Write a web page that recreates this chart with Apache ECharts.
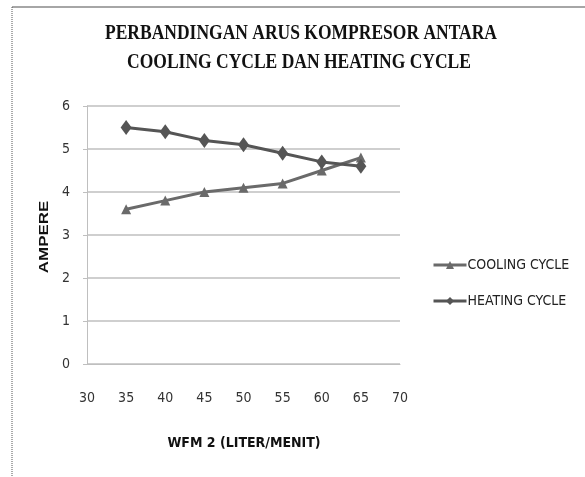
<!DOCTYPE html>
<html><head><meta charset="utf-8">
<script src="https://cdn.jsdelivr.net/npm/echarts@6/dist/echarts.min.js"></script>
<style>html,body{margin:0;padding:0;background:#fff}#c{width:585px;height:477px}</style>
</head><body><div id="c"></div>
<script>
const xValues = [35, 40, 45, 50, 55, 60, 65];
const coolingCycle = [3.6, 3.8, 4.0, 4.1, 4.2, 4.5, 4.8];
const heatingCycle = [5.5, 5.4, 5.2, 5.1, 4.9, 4.7, 4.6];
const titleLines = ['PERBANDINGAN ARUS KOMPRESOR ANTARA', 'COOLING CYCLE DAN HEATING CYCLE'];

const chart = echarts.init(document.getElementById('c'));
const narrow = '"DejaVu Sans Condensed", "Liberation Sans Narrow", "Open Sans", sans-serif';
const titleFont = 'bold 22px "Liberation Serif", serif';
const ctx = document.createElement('canvas').getContext('2d');
ctx.font = titleFont;
const titleScale = 392 / ctx.measureText(titleLines[0]).width;

chart.setOption({
  animation: false,
  legend: {
    orient: 'vertical', left: 427, top: 253, itemGap: 22, itemWidth: 33, itemHeight: 10,
    lineStyle: {width: 3},
    textStyle: {fontFamily: narrow, fontSize: 14, color: '#222', padding: [0,0,0,-4]},
    data: ['COOLING CYCLE', 'HEATING CYCLE']
  },
  grid: {left: 87, right: 185, top: 106, bottom: 113},
  xAxis: {
    type: 'value', min: 30, max: 70, interval: 5,
    axisLine: {show: true, lineStyle: {color: '#bfbfbf'}},
    axisTick: {show: false},
    splitLine: {show: false},
    axisLabel: {fontFamily: narrow, fontSize: 14, color: '#333', margin: 27}
  },
  yAxis: {
    type: 'value', min: 0, max: 6, interval: 1,
    axisLine: {show: true, lineStyle: {color: '#bfbfbf'}},
    axisTick: {show: true, inside: false, length: 4, lineStyle: {color: '#bfbfbf'}},
    splitLine: {lineStyle: {color: '#bfbfbf', width: 1.5}},
    axisLabel: {fontFamily: narrow, fontSize: 14, color: '#333', margin: 17}
  },
  graphic: [
    {type: 'text', x: 301, y: 33, scaleX: titleScale, style: {text: titleLines[0], textAlign: 'center', textVerticalAlign: 'middle', font: titleFont, fill: '#111'}},
    {type: 'text', x: 299, y: 62, scaleX: titleScale, style: {text: titleLines[1], textAlign: 'center', textVerticalAlign: 'middle', font: titleFont, fill: '#111'}},
    {type: 'text', x: 244, y: 443, style: {text: 'WFM 2 (LITER/MENIT)', textAlign: 'center', textVerticalAlign: 'middle', font: 'bold 14px ' + narrow, fill: '#111'}},
    {type: 'text', x: 44, y: 237, rotation: Math.PI/2, scaleX: 1.3, style: {text: 'AMPERE', textAlign: 'center', textVerticalAlign: 'middle', font: 'bold 13px "Liberation Sans", sans-serif', fill: '#111'}},
    {type: 'line', shape: {x1: 12, y1: 7, x2: 585, y2: 7}, style: {stroke: '#888', lineWidth: 1.5}},
    {type: 'line', shape: {x1: 12, y1: 7, x2: 12, y2: 477}, style: {stroke: '#555', lineWidth: 1, lineDash: [1, 1]}}
  ],
  series: [
    {name: 'COOLING CYCLE', type: 'line', data: xValues.map((x, i) => [x, coolingCycle[i]]),
     symbol: 'triangle', symbolSize: 10, lineStyle: {color: '#6a6a6a', width: 3},
     itemStyle: {color: '#6a6a6a'}},
    {name: 'HEATING CYCLE', type: 'line', data: xValues.map((x, i) => [x, heatingCycle[i]]),
     symbol: 'diamond', symbolSize: [11, 15], lineStyle: {color: '#555', width: 3},
     itemStyle: {color: '#555'}}
  ]
});
</script></body></html>
